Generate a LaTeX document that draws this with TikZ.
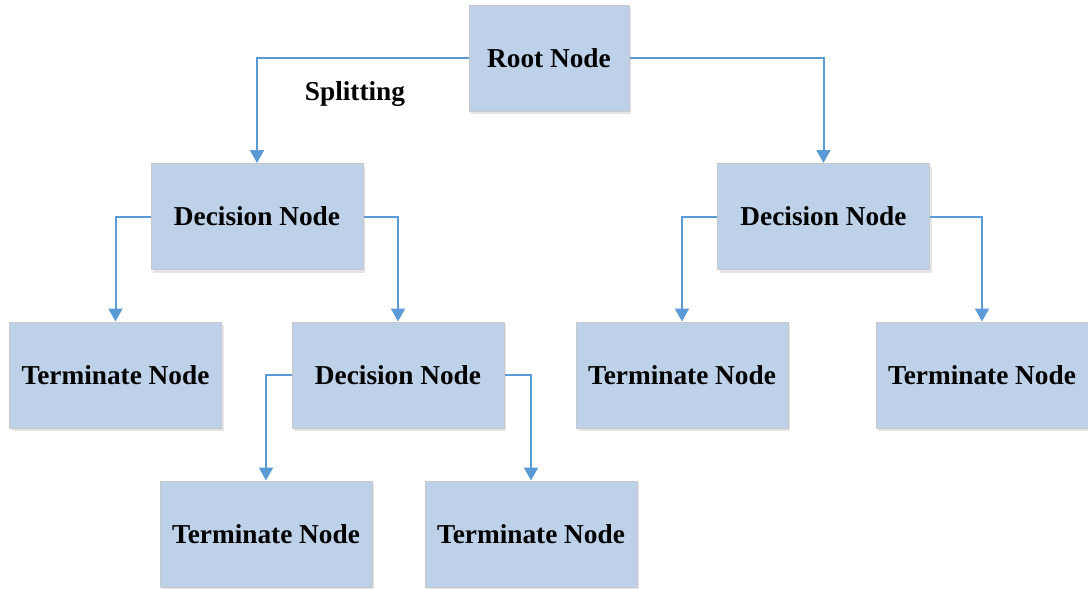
\documentclass[tikz,border=0pt]{standalone}
\usepackage{fontspec}
\setmainfont{Liberation Serif}
\usetikzlibrary{arrows.meta,shadows}
\definecolor{boxfill}{HTML}{BDD1E9}
\definecolor{boxline}{HTML}{C8C8C8}
\definecolor{link}{HTML}{5B9BD5}
\tikzset{
  treebox/.style={draw=boxline, line width=1pt, fill=boxfill,
    minimum width=212pt, minimum height=106pt, inner sep=0pt,
    font=\fontsize{27.3}{30}\selectfont\bfseries,
    drop shadow={shadow xshift=2pt, shadow yshift=-3pt, opacity=0.10, fill=black}},
  link/.style={draw=link, line width=2pt, -{Triangle[width=14pt,length=13pt]}}
}
\begin{document}
\begin{tikzpicture}[x=1pt,y=-1pt]
  \useasboundingbox (0,0) rectangle (1088,589);
  % tree nodes
  \node[treebox, minimum width=160pt] (root) at (549,58) {Root Node};
  \node[treebox] (decL) at (257,216.5) {Decision Node};
  \node[treebox] (decR) at (823.5,216.5) {Decision Node};
  \node[treebox] (termA) at (115.5,375) {Terminate Node};
  \node[treebox] (decM) at (398,375) {Decision Node};
  \node[treebox] (termB) at (682,375) {Terminate Node};
  \node[treebox] (termC) at (982,375) {Terminate Node};
  \node[treebox] (termD) at (266,534) {Terminate Node};
  \node[treebox] (termE) at (531,534) {Terminate Node};
  \node[font=\fontsize{27.3}{30}\selectfont\bfseries] (split) at (355,94) {Splitting};
  % branches
  \draw[link] (root.west) -| (decL.north);
  \draw[link] (root.east) -| (decR.north);
  \draw[link] (decL.west) -| (termA.north);
  \draw[link] (decL.east) -| (decM.north);
  \draw[link] (decR.west) -| (termB.north);
  \draw[link] (decR.east) -| (termC.north);
  \draw[link] (decM.west) -| (termD.north);
  \draw[link] (decM.east) -| (termE.north);
\end{tikzpicture}
\end{document}
